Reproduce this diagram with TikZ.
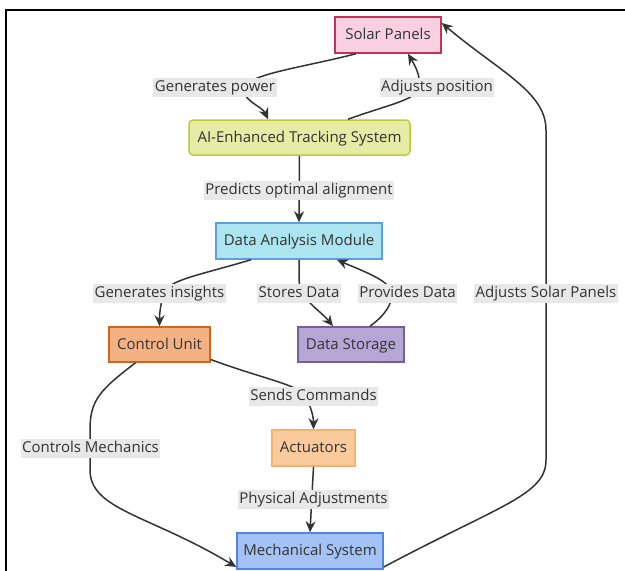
\documentclass[tikz,border=0pt]{standalone}
\usepackage{fontspec}
\setmainfont{Open Sans}
\usetikzlibrary{arrows.meta}
\definecolor{txt}{HTML}{333333}
\definecolor{lbl}{HTML}{E8E8E8}
\definecolor{spfill}{HTML}{F8D0E0}\definecolor{spdraw}{HTML}{C8305C}
\definecolor{aifill}{HTML}{E4ECA6}\definecolor{aidraw}{HTML}{C0CA33}
\definecolor{dafill}{HTML}{ACE5EF}\definecolor{dadraw}{HTML}{5B9FE0}
\definecolor{cufill}{HTML}{F4B183}\definecolor{cudraw}{HTML}{D0651C}
\definecolor{dsfill}{HTML}{B4A7D6}\definecolor{dsdraw}{HTML}{7E5C9A}
\definecolor{acfill}{HTML}{F9CB9C}\definecolor{acdraw}{HTML}{F6B26B}
\definecolor{msfill}{HTML}{A4C2F4}\definecolor{msdraw}{HTML}{4A86E8}
\tikzset{
  box/.style={draw, line width=1.5pt, text=txt, inner sep=0pt, text height=11.5pt, text depth=2.5pt, font=\fontsize{15}{18}\selectfont},
  elabel/.style={fill=lbl, text=txt, inner xsep=1.5pt, inner ysep=0pt, minimum height=19pt, text height=11.5pt, text depth=2.5pt, font=\fontsize{15}{18}\selectfont},
  arr/.style={draw=txt, line width=1.5pt, -{Stealth[length=11pt,width=10pt]}},
}
\begin{document}
\begin{tikzpicture}[x=1pt,y=-1pt]
\useasboundingbox (0,0) rectangle (625,571);
\draw[line width=2pt, line cap=rect] (5.5,571) -- (5.5,9.5) -- (625,9.5);
% nodes
\node[box, fill=spfill, draw=spdraw, minimum width=106pt, minimum height=36pt] (sp) at (388,35) {Solar Panels};
\node[box, fill=aifill, draw=aidraw, rounded corners=4pt, minimum width=221pt, minimum height=35pt] (ai) at (299.5,137.5) {AI-Enhanced Tracking System};
\node[box, fill=dafill, draw=dadraw, minimum width=166pt, minimum height=36pt] (da) at (299,241) {Data Analysis Module};
\node[box, fill=cufill, draw=cudraw, minimum width=101pt, minimum height=35pt] (cu) at (159.5,344.5) {Control Unit};
\node[box, fill=dsfill, draw=dsdraw, minimum width=106pt, minimum height=35pt] (ds) at (351,344.5) {Data Storage};
\node[box, fill=acfill, draw=acdraw, minimum width=83pt, minimum height=36pt] (ac) at (313.5,448) {Actuators};
\node[box, fill=msfill, draw=msdraw, minimum width=146pt, minimum height=36pt] (ms) at (310,551) {Mechanical System};
% edges
\draw[arr] ([xshift=-32pt]sp.south) .. controls (300,68) and (250,74) .. (245,87) .. controls (240,100) and (262,106) .. ([xshift=-31.5pt]ai.north);
\draw[arr] ([xshift=48.5pt]ai.north) .. controls (390,104) and (417,100) .. (419,87) .. controls (421,75) and (414,64) .. ([xshift=20pt]sp.south);
\draw[arr] (ai.south) -- (da.north);
\draw[arr] ([xshift=-48pt]da.south) .. controls (200,275) and (168,280) .. (164,293) .. controls (160,306) and (159.5,315) .. (cu.north);
\draw[arr] (da.south) -- (299,280) .. controls (300,300) and (320,310) .. ([xshift=-18pt]ds.north);
\draw[arr] ([xshift=19pt]ds.north) .. controls (385,315) and (392,305) .. (392,293) .. controls (390,280) and (360,270) .. ([xshift=38pt]da.south);
\draw[arr] ([yshift=-16pt]ms.east) .. controls (500,505) and (546,495) .. (546,460) -- (546,130) .. controls (546,92) and (500,72) .. ([yshift=12pt]sp.east);
\draw[arr] ([yshift=-15pt]cu.east) .. controls (260,378) and (300,385) .. (305,396) .. controls (310,405) and (313.5,415) .. (ac.north);
\draw[arr] ([xshift=-24pt]cu.south) .. controls (100,390) and (90,400) .. (90,430) -- (90,470) .. controls (90,510) and (150,515) .. ([yshift=-16pt]ms.west);
\draw[arr] (ac.south) -- (ms.north);
% labels
\node[elabel] (l1) at (215,87) {Generates power};
\node[elabel] (l2) at (437,87) {Adjusts position};
\node[elabel] (l3) at (299,190) {Predicts optimal alignment};
\node[elabel] (l4) at (159.5,293) {Generates insights};
\node[elabel] (l5) at (299,293) {Stores Data};
\node[elabel] (l6) at (407.5,293) {Provides Data};
\node[elabel] (l7) at (546,293) {Adjusts Solar Panels};
\node[elabel] (l8) at (313.5,396) {Sends Commands};
\node[elabel] (l9) at (90.5,448) {Controls Mechanics};
\node[elabel] (l10) at (313.5,499) {Physical Adjustments};
\end{tikzpicture}
\end{document}
